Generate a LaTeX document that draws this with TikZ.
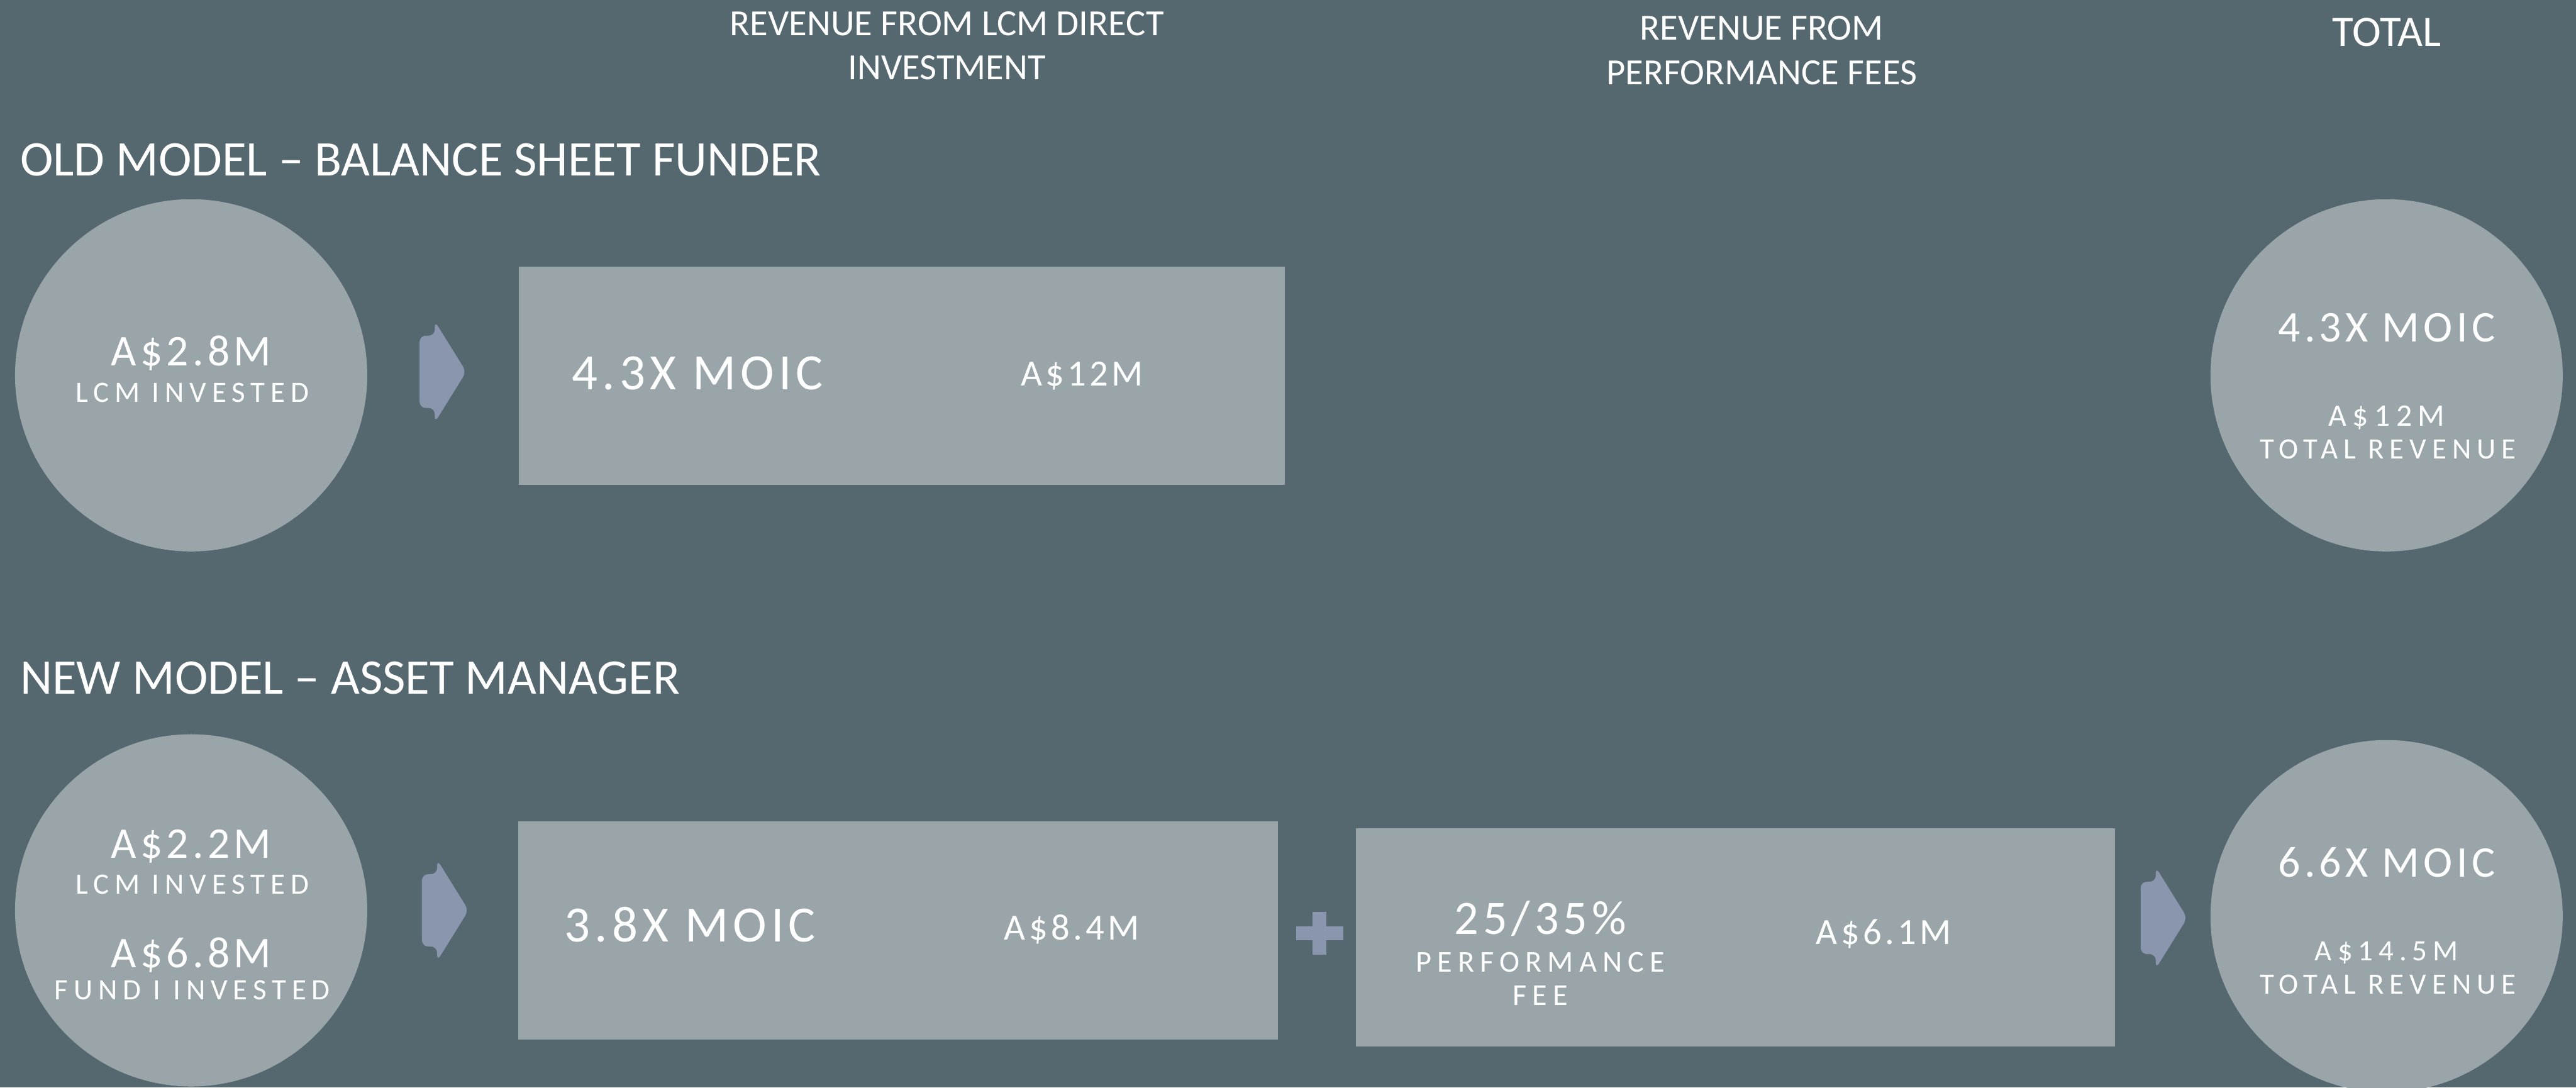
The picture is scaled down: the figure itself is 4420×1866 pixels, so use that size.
\documentclass[tikz,border=0pt]{standalone}
\usepackage{fontspec}
\setmainfont{Carlito}
\newfontfamily\wide[LetterSpace=9]{Carlito}
\newfontfamily\wider[LetterSpace=19]{Carlito}

\definecolor{slate}{RGB}{86,104,111}
\definecolor{mist}{RGB}{154,165,170}
\definecolor{steel}{RGB}{138,150,174}

\tikzset{
  pics/fwd/.style={code={
    \fill[steel,rounded corners=3pt] (-40,-62) -- (-14,-62) -- (-14,-87) -- (40,0)
      -- (-14,87) -- (-14,62) -- (-40,62) -- cycle;
  }}
}

\begin{document}
\begin{tikzpicture}[x=0.01cm,y=-0.01cm,
    disc/.style={circle,fill=mist,minimum size=6.04cm,inner sep=0pt},
    panel/.style={rectangle,fill=mist,inner sep=0pt,minimum height=3.74cm},
    lbl/.style={text=white,inner sep=0pt,anchor=base},
    title/.style={lbl,anchor=base west,font=\fontsize{24.3}{29}\selectfont},
    colhead/.style={lbl,align=center,font=\fontsize{18}{21.6}\selectfont},
    bigfig/.style={lbl,font=\wide\fontsize{21.4}{26}\selectfont},
    smallfig/.style={lbl,font=\wider\fontsize{14.4}{17}\selectfont},
    moic/.style={lbl,font=\wide\fontsize{24.8}{30}\selectfont},
    amount/.style={lbl,font=\wide\fontsize{18}{22}\selectfont}]

    % Background
    \fill[slate] (0,0) rectangle (4420,1866);
    \useasboundingbox (0,0) rectangle (4420,1866);

    % Column headings (placed on the baseline of the last line)
    \node[colhead] (hdlcm) at (1625,137) {REVENUE FROM LCM DIRECT\\INVESTMENT};
    \node[colhead] (hdfee) at (3023,145) {REVENUE FROM\\PERFORMANCE FEES};
    \node[lbl,font=\fontsize{21.2}{25}\selectfont] (hdtot) at (4095,79) {TOTAL};

    % Old model
    \node[title] (oldtitle) at (34,302) {OLD MODEL – BALANCE SHEET FUNDER};
    \node[disc] (oldin) at (328,644) {};
    \node[bigfig] (oldinv) at (328,627) {A\$2.8M};
    \node[smallfig] (oldinvl) at (330,690) {LCM INVESTED};
    \pic at (760,638) {fwd};
    \node[panel,minimum width=13.13cm] (oldlcm) at (1547.5,645) {};
    \node[moic] (oldmoic) at (1197,668) {4.3X MOIC};
    \node[amount] (oldamt) at (1857,662) {A\$12M};
    \node[disc] (oldtot) at (4095,644) {};
    \node[bigfig] (oldtotm) at (4095,586) {4.3X MOIC};
    \node[smallfig,font=\wider\fontsize{15.3}{18}\selectfont] (oldtota) at (4095,731) {A\$12M};
    \node[smallfig] (oldtotl) at (4097,787) {TOTAL REVENUE};

    % New model
    \node[title] (newtitle) at (34,1191) {NEW MODEL – ASSET MANAGER};
    \node[disc] (newin) at (328,1562) {};
    \node[bigfig] (newinv) at (328,1472) {A\$2.2M};
    \node[smallfig] (newinvl) at (330,1534) {LCM INVESTED};
    \node[bigfig] (newfund) at (328,1660) {A\$6.8M};
    \node[smallfig] (newfundl) at (330,1715) {FUND I INVESTED};
    \pic at (764,1562) {fwd};
    \node[panel,minimum width=13.02cm] (newlcm) at (1541,1596.5) {};
    \node[moic] (newmoic) at (1184,1616) {3.8X MOIC};
    \node[amount] (newamt) at (1839,1613) {A\$8.4M};
    % plus sign
    \fill[steel] (2252,1565) rectangle (2276,1638);
    \fill[steel] (2224,1590) rectangle (2305,1613);
    \node[panel,minimum width=13.02cm] (newfee) at (2978,1608) {};
    \node[lbl,font=\wide\fontsize{23.4}{28}\selectfont] (feepct) at (2643,1603) {25/35\%};
    \node[smallfig,font=\wider\fontsize{14.8}{17}\selectfont] (feel1) at (2643,1668) {PERFORMANCE};
    \node[smallfig,font=\wider\fontsize{14.8}{17}\selectfont] (feel2) at (2643,1725) {FEE};
    \node[amount] (feeamt) at (3232,1620) {A\$6.1M};
    \pic at (3713,1575) {fwd};
    \node[disc] (newtot) at (4095,1572) {};
    \node[bigfig] (newtotm) at (4095,1505) {6.6X MOIC};
    \node[smallfig] (newtota) at (4095,1648) {A\$14.5M};
    \node[smallfig] (newtotl) at (4097,1706) {TOTAL REVENUE};
\end{tikzpicture}
\end{document}
